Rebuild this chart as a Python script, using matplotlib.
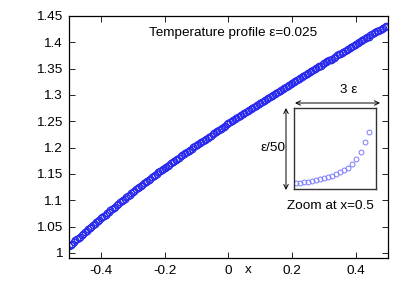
# -*- coding: utf-8 -*-
"""Профиль температуры eps=0.025 с врезкой у x=0.5 (стиль gnuplot)."""
import matplotlib
matplotlib.use("Agg")
import matplotlib.pyplot as plt
from matplotlib.patches import FancyArrowPatch
import numpy as np

plt.rcParams["font.family"] = ["Liberation Sans", "DejaVu Sans"]
plt.rcParams["font.size"] = 9.7

W, H = 409, 286

# Основная кривая: шаг 0.005 от -0.5
x_start, x_step = -0.5, 0.005
temp = [
    1.013, 1.016, 1.018, 1.021, 1.024, 1.026, 1.029, 1.031, 1.034, 1.037,
    1.040, 1.042, 1.045, 1.047, 1.050, 1.053, 1.056, 1.058, 1.061, 1.063,
    1.066, 1.068, 1.071, 1.073, 1.076, 1.078, 1.081, 1.083, 1.086, 1.088,
    1.091, 1.093, 1.096, 1.098, 1.101, 1.103, 1.106, 1.108, 1.111, 1.113,
    1.116, 1.118, 1.121, 1.123, 1.125, 1.127, 1.130, 1.132, 1.134, 1.136,
    1.139, 1.141, 1.144, 1.146, 1.148, 1.150, 1.153, 1.155, 1.157, 1.159,
    1.162, 1.164, 1.166, 1.168, 1.171, 1.173, 1.175, 1.177, 1.179, 1.181,
    1.184, 1.186, 1.188, 1.190, 1.192, 1.194, 1.196, 1.198, 1.201, 1.203,
    1.205, 1.207, 1.209, 1.211, 1.213, 1.215, 1.217, 1.219, 1.221, 1.223,
    1.226, 1.228, 1.230, 1.232, 1.234, 1.236, 1.238, 1.240, 1.242, 1.244,
    1.246, 1.248, 1.250, 1.252, 1.254, 1.256, 1.258, 1.260, 1.262, 1.264,
    1.266, 1.268, 1.269, 1.271, 1.273, 1.275, 1.277, 1.279, 1.281, 1.283,
    1.285, 1.287, 1.289, 1.291, 1.293, 1.295, 1.296, 1.298, 1.300, 1.302,
    1.304, 1.306, 1.308, 1.310, 1.312, 1.314, 1.315, 1.317, 1.319, 1.321,
    1.323, 1.325, 1.327, 1.329, 1.330, 1.332, 1.334, 1.336, 1.338, 1.340,
    1.341, 1.343, 1.345, 1.347, 1.349, 1.351, 1.353, 1.355, 1.356, 1.358,
    1.360, 1.362, 1.364, 1.366, 1.367, 1.369, 1.371, 1.373, 1.375, 1.377,
    1.378, 1.380, 1.382, 1.384, 1.386, 1.388, 1.390, 1.392, 1.393, 1.395,
    1.397, 1.399, 1.401, 1.403, 1.404, 1.406, 1.408, 1.410, 1.411, 1.413,
    1.415, 1.417, 1.419, 1.421, 1.422, 1.424, 1.426, 1.428, 1.429, 1.431,
]

# Врезка (доли окна 3eps x eps/50)
zoom_x = [0.024, 0.073, 0.122, 0.171, 0.220, 0.268, 0.317, 0.366, 0.415, 0.463,
          0.512, 0.561, 0.610, 0.659, 0.707, 0.760, 0.817, 0.870, 0.918]
zoom_y = [0.070, 0.074, 0.083, 0.090, 0.099, 0.107, 0.120, 0.132, 0.144, 0.160,
          0.181, 0.206, 0.231, 0.263, 0.305, 0.370, 0.460, 0.577, 0.707]

xticks = [-0.4, -0.2, 0.0, 0.2, 0.4]
xtick_labels = ["-0.4", "-0.2", "0", "0.2", "0.4"]
yticks = [1.0, 1.05, 1.1, 1.15, 1.2, 1.25, 1.3, 1.35, 1.4, 1.45]
ytick_labels = ["1", "1.05", "1.1", "1.15", "1.2", "1.25", "1.3", "1.35", "1.4", "1.45"]


def fx(px):
    return px / W


def fy(py):
    return 1 - py / H


xs = x_start + x_step * np.arange(len(temp))

fig = plt.figure(figsize=(W / 100, H / 100), dpi=100)
ax = fig.add_axes([fx(69), fy(258), fx(388) - fx(69), fy(16) - fy(258)])
ax.plot(xs, temp, "o", mfc="none", mec="#2a2aee", ms=4.7, mew=0.9)
ax.set_xlim(-0.5, 0.5)
ax.set_ylim(0.9905, 1.45)
ax.set_xticks(xticks)
ax.set_xticklabels(xtick_labels)
ax.set_yticks(yticks)
ax.set_yticklabels(ytick_labels)
ax.tick_params(direction="in", top=True, right=True, length=4, width=0.6, pad=5)
for s in ax.spines.values():
    s.set_linewidth(0.9)

fig.text(fx(248), fy(270), "x", ha="center", va="center")
fig.text(fx(149), fy(33), "Temperature profile \u03b5=0.025", ha="left", va="center")

# врезка
axi = fig.add_axes([fx(294), fy(189), fx(376) - fx(294), fy(108) - fy(189)])
axi.plot(zoom_x, zoom_y, "o", mfc="none", mec="#7a7aff", ms=3.5, mew=0.7)
axi.set_xlim(0, 1)
axi.set_ylim(0, 1)
axi.set_xticks([])
axi.set_yticks([])
for s in axi.spines.values():
    s.set_linewidth(1.0)
    s.set_color("#333333")

arr = dict(arrowstyle="<->", lw=0.7, color="black", shrinkA=0, shrinkB=0,
           mutation_scale=8, transform=fig.transFigure)
fig.add_artist(FancyArrowPatch((fx(295), fy(103)), (fx(380), fy(103)), **arr))
fig.add_artist(FancyArrowPatch((fx(286), fy(108)), (fx(286), fy(190)), **arr))
fig.text(fx(349), fy(90), "3 \u03b5", ha="center", va="center")
fig.text(fx(273), fy(148), "\u03b5/50", ha="center", va="center")
fig.text(fx(330), fy(206), "Zoom at x=0.5", ha="center", va="center")

fig.savefig("out.png", dpi=100, facecolor="white")
